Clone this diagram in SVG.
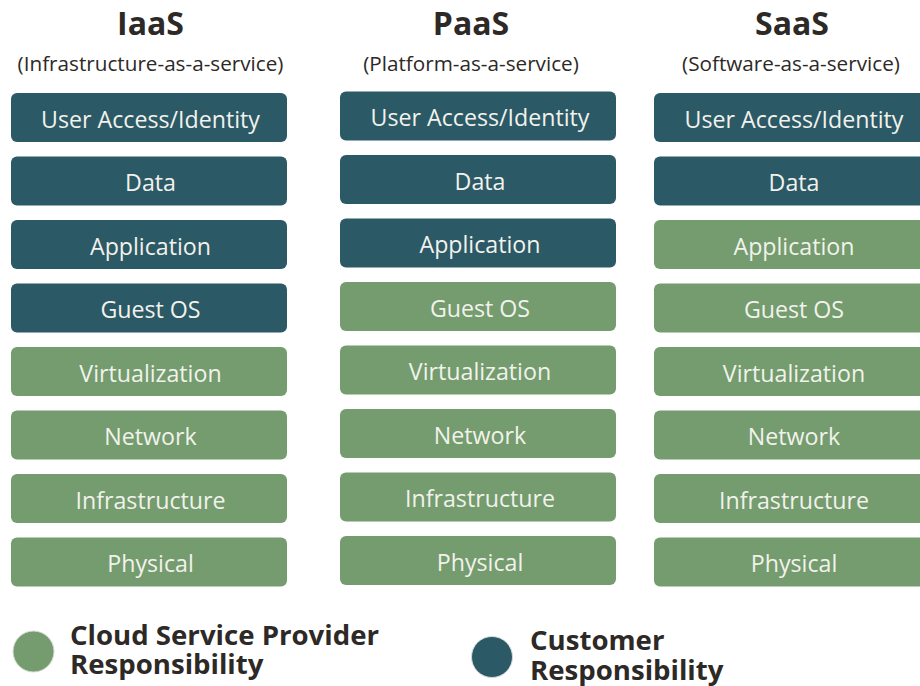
<svg xmlns="http://www.w3.org/2000/svg" width="920" height="686" viewBox="0 0 920 686">
<style>
.t{font-family:"Open Sans","Noto Sans",sans-serif;font-weight:700;font-size:32px;fill:#2d2926;text-anchor:middle}
.s{font-family:"Open Sans","Noto Sans",sans-serif;font-size:20.7px;fill:#2d2926;text-anchor:middle}
.c rect{fill:#2b5966}
.p rect{fill:#749c6e}
.n text{font-family:"Open Sans","Noto Sans",sans-serif;font-size:23.2px;fill:#f2f2ec;text-anchor:middle}
.l{font-family:"Open Sans","Noto Sans",sans-serif;font-weight:700;font-size:27.6px;fill:#2d2926}
</style>
<rect width="920" height="686" fill="#ffffff"/>
<g id="headers">
<text class="t" x="150.5" y="34.5">IaaS</text>
<text class="s" x="150.5" y="71">(Infrastructure-as-a-service)</text>
<text class="t" x="471" y="34.5">PaaS</text>
<text class="s" x="471" y="71">(Platform-as-a-service)</text>
<text class="t" x="792" y="34.5">SaaS</text>
<text class="s" x="791" y="71">(Software-as-a-service)</text>
</g>
<g id="iaas">
<g id="iaas-user" class="n c"><rect x="11" y="93" width="276" height="49" rx="6"/><text x="150.5" y="127.5">User Access/Identity</text></g>
<g id="iaas-data" class="n c"><rect x="11" y="156.5" width="276" height="49" rx="6"/><text x="150.5" y="191">Data</text></g>
<g id="iaas-app" class="n c"><rect x="11" y="220" width="276" height="49" rx="6"/><text x="150.5" y="254.5">Application</text></g>
<g id="iaas-os" class="n c"><rect x="11" y="283.5" width="276" height="49" rx="6"/><text x="150.5" y="318">Guest OS</text></g>
<g id="iaas-virt" class="n p"><rect x="11" y="347" width="276" height="49" rx="6"/><text x="150.5" y="381.5">Virtualization</text></g>
<g id="iaas-net" class="n p"><rect x="11" y="410.5" width="276" height="49" rx="6"/><text x="150.5" y="445">Network</text></g>
<g id="iaas-infra" class="n p"><rect x="11" y="474" width="276" height="49" rx="6"/><text x="150.5" y="508.5">Infrastructure</text></g>
<g id="iaas-phys" class="n p"><rect x="11" y="537.5" width="276" height="49" rx="6"/><text x="150.5" y="572">Physical</text></g>
</g>
<g id="paas">
<g id="paas-user" class="n c"><rect x="340" y="91.5" width="276" height="49" rx="6"/><text x="480" y="126">User Access/Identity</text></g>
<g id="paas-data" class="n c"><rect x="340" y="155" width="276" height="49" rx="6"/><text x="480" y="189.5">Data</text></g>
<g id="paas-app" class="n c"><rect x="340" y="218.5" width="276" height="49" rx="6"/><text x="480" y="253">Application</text></g>
<g id="paas-os" class="n p"><rect x="340" y="282" width="276" height="49" rx="6"/><text x="480" y="316.5">Guest OS</text></g>
<g id="paas-virt" class="n p"><rect x="340" y="345.5" width="276" height="49" rx="6"/><text x="480" y="380">Virtualization</text></g>
<g id="paas-net" class="n p"><rect x="340" y="409" width="276" height="49" rx="6"/><text x="480" y="443.5">Network</text></g>
<g id="paas-infra" class="n p"><rect x="340" y="472.5" width="276" height="49" rx="6"/><text x="480" y="507">Infrastructure</text></g>
<g id="paas-phys" class="n p"><rect x="340" y="536" width="276" height="49" rx="6"/><text x="480" y="570.5">Physical</text></g>
</g>
<g id="saas">
<g id="saas-user" class="n c"><rect x="654" y="93" width="276" height="49" rx="6"/><text x="794" y="127.5">User Access/Identity</text></g>
<g id="saas-data" class="n c"><rect x="654" y="156.5" width="276" height="49" rx="6"/><text x="794" y="191">Data</text></g>
<g id="saas-app" class="n p"><rect x="654" y="220" width="276" height="49" rx="6"/><text x="794" y="254.5">Application</text></g>
<g id="saas-os" class="n p"><rect x="654" y="283.5" width="276" height="49" rx="6"/><text x="794" y="318">Guest OS</text></g>
<g id="saas-virt" class="n p"><rect x="654" y="347" width="276" height="49" rx="6"/><text x="794" y="381.5">Virtualization</text></g>
<g id="saas-net" class="n p"><rect x="654" y="410.5" width="276" height="49" rx="6"/><text x="794" y="445">Network</text></g>
<g id="saas-infra" class="n p"><rect x="654" y="474" width="276" height="49" rx="6"/><text x="794" y="508.5">Infrastructure</text></g>
<g id="saas-phys" class="n p"><rect x="654" y="537.5" width="276" height="49" rx="6"/><text x="794" y="572">Physical</text></g>
</g>
<g id="legend-provider">
<circle cx="33.5" cy="651.5" r="20.5" fill="#749c6e" stroke="#d8ddd6" stroke-width="1"/>
<text class="l" x="70" y="645">Cloud Service Provider</text>
<text class="l" x="70" y="674">Responsibility</text>
</g>
<g id="legend-customer">
<circle cx="492" cy="657" r="20.5" fill="#2b5966" stroke="#d3dadc" stroke-width="1"/>
<text class="l" x="530" y="650">Customer</text>
<text class="l" x="530" y="680">Responsibility</text>
</g>
<g id="connectors"/>
</svg>
